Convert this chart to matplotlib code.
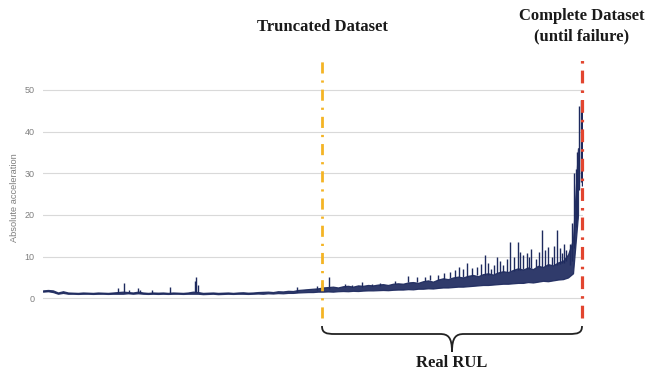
import matplotlib
matplotlib.use("Agg")
import matplotlib.pyplot as plt
import numpy as np
from matplotlib.path import Path
from matplotlib.patches import PathPatch

#####################################################################
# data (time in samples, acceleration values)
bin_width = 5.0
acc_lo = [1.6, 1.7, 1.5, 1.1, 1.3, 1.1, 1.1, 1.05, 1.1, 1.1, 1.05, 1.1,
          1.1, 1.05, 1.1, 1.1, 1.1, 1.2, 1.1, 1.2, 1.1, 1.05, 1.1, 1.05,
          1.1, 1.05, 1.1, 1.1, 1.05, 1.1, 1.1, 1.1, 1.0, 1.05, 1.1, 1.0,
          1.05, 1.1, 1.05, 1.1, 1.1, 1.05, 1.1, 1.15, 1.1, 1.2, 1.15, 1.25,
          1.2, 1.3, 1.3, 1.4, 1.45, 1.5, 1.5, 1.6, 1.6, 1.65, 1.6, 1.7,
          1.75, 1.7, 1.8, 1.75, 1.85, 1.9, 1.9, 1.95, 2.0, 1.95, 2.05, 2.1,
          2.1, 2.2, 2.15, 2.3, 2.3, 2.4, 2.35, 2.5, 2.6, 2.6, 2.7, 2.8,
          2.8, 2.9, 3.0, 3.1, 3.2, 3.2, 3.3, 3.4, 3.5, 3.5, 3.6, 3.7,
          3.7, 3.9, 3.8, 4.0, 4.2, 4.1, 4.3, 4.5, 4.6, 5.0, 6.0, 20.0]
acc_hi = [1.9, 2.0, 1.9, 1.4, 1.7, 1.4, 1.35, 1.3, 1.4, 1.35, 1.3, 1.4,
          1.35, 1.3, 1.4, 1.5, 1.6, 1.5, 1.4, 1.6, 1.4, 1.3, 1.4, 1.35,
          1.4, 1.3, 1.4, 1.35, 1.3, 1.4, 1.6, 1.5, 1.3, 1.35, 1.4, 1.3,
          1.35, 1.4, 1.3, 1.4, 1.45, 1.35, 1.4, 1.5, 1.55, 1.6, 1.5, 1.7,
          1.65, 1.8, 1.75, 2.0, 2.1, 2.2, 2.3, 2.4, 2.6, 2.7, 2.8, 2.6,
          2.9, 3.0, 2.8, 3.1, 3.0, 3.2, 3.1, 3.3, 3.4, 3.2, 3.5, 3.6,
          3.5, 3.8, 3.9, 3.7, 4.1, 4.3, 4.0, 4.5, 4.8, 4.6, 5.0, 5.2,
          5.0, 5.4, 5.6, 5.3, 5.8, 6.0, 5.7, 6.2, 6.5, 6.3, 6.8, 7.2,
          6.9, 7.4, 7.0, 7.8, 7.5, 8.2, 7.9, 8.6, 9.0, 10.5, 14.0, 36.0]

# isolated peaks: time, level at foot, level at top
spike_t = [75, 81, 86, 95, 97, 109, 127, 152, 153, 155, 254, 274, 279, 286,
           302, 309, 319, 329, 337, 352, 365, 374, 382, 387, 395, 401, 407,
           412, 416, 420, 424, 429, 434, 438, 442, 445, 448, 451, 454, 457,
           460, 464, 467, 471, 475, 477, 480, 484, 486, 488, 493, 496, 499,
           502, 505, 509, 511, 514, 517, 519, 521, 523, 527, 529, 531, 533,
           534, 536, 538, 539]
spike_base = [1.3, 1.3, 1.3, 1.3, 1.3, 1.3, 1.3, 1.4, 1.4, 1.4, 1.5, 1.9, 2.0, 2.2,
              2.6, 2.6, 2.8, 3.0, 3.0, 3.4, 3.8, 4.0, 4.2, 4.3, 4.5, 4.6, 4.8,
              4.8, 5.0, 5.0, 5.2, 5.3, 5.5, 5.5, 5.6, 5.7, 5.8, 5.9, 6.0, 6.1,
              6.2, 6.3, 6.5, 6.6, 6.8, 6.8, 7.0, 7.0, 7.1, 7.2, 7.5, 7.5, 7.6,
              7.7, 7.8, 8.0, 8.0, 8.0, 8.2, 8.4, 8.5, 9.0, 8.0, 9.0, 12.0, 17.0,
              19.0, 26.0, 28.0, 27.0]
spike_top = [2.4, 3.6, 2.0, 2.4, 2.1, 2.0, 2.8, 4.2, 5.0, 3.3, 2.8, 3.0, 3.6, 5.0,
             3.4, 3.2, 3.8, 3.5, 3.6, 4.2, 5.3, 5.2, 5.0, 5.5, 5.5, 6.0, 6.4,
             6.8, 7.6, 7.0, 8.5, 7.2, 7.6, 8.2, 10.4, 8.5, 7.0, 8.0, 10.0, 9.0,
             8.0, 9.5, 13.6, 10.0, 13.6, 11.0, 10.4, 10.8, 9.8, 11.8, 9.5, 11.0, 16.3,
             11.5, 12.4, 10.0, 12.5, 16.3, 12.0, 10.8, 13.0, 11.5, 13.0, 18.0, 30.0, 31.0,
             35.0, 46.0, 47.5, 45.0]

truncation_t = 279
failure_t = 539
y_ticks = [0, 10, 20, 30, 40, 50]

#####################################################################
# figure
W, H = 648, 374
fig = plt.figure(figsize=(W / 100, H / 100), dpi=100)
ax = fig.add_axes([43 / W, 0.1912, 540 / W, 0.6244])

navy = '#1e2a5e'
gold = '#f4b425'
red = '#e2452f'

# signal band between the low and high value of each bin, plus peaks
t = np.arange(len(acc_lo)) * bin_width
ax.fill_between(t, acc_lo, acc_hi, facecolor=navy, edgecolor=navy, lw=0.9,
                alpha=0.92, zorder=3)
ax.vlines(spike_t, spike_base, spike_top, color=navy, lw=1.0, zorder=3)

ax.set_xlim(0, 540)
ax.set_ylim(-1, 55)
ax.set_yticks(y_ticks)
ax.set_xticks([])
ax.grid(axis='y', color='#d9d9d9', lw=0.8)
ax.set_axisbelow(True)
for s in ax.spines.values():
    s.set_visible(False)
ax.tick_params(axis='y', length=0, labelsize=6.5, labelcolor='#7f7f7f', pad=6)
for lab in ax.get_yticklabels():
    lab.set_fontfamily('Liberation Sans')
ax.set_ylabel('Absolute acceleration', fontsize=6.7, color='#7f7f7f',
              family='Liberation Sans')
ax.yaxis.set_label_coords(-0.045, 0.447)

# truncation and failure markers
ax.plot([truncation_t, truncation_t], [-4.7, 58.3], color=gold, lw=2.0,
         linestyle=(0, (4, 2.5, 0.8, 2.5)), clip_on=False, zorder=4)
ax.plot([failure_t, failure_t], [-4.7, 58.3], color=red, lw=2.3,
         linestyle=(0, (4, 2.2, 0.8, 2.2)), clip_on=False, zorder=4)

#####################################################################
# curly brace under the RUL span (figure pixels)
def fp(x, y):
    return (x / W, 1 - y / H)

xl, xr, xm = 322, 582, 452
verts = [fp(xl, 326), fp(xl, 333), fp(xl + 4, 334), fp(xl + 13, 334),
         fp(xm - 12, 334),
         fp(xm - 4, 334), fp(xm, 337), fp(xm, 352),
         fp(xm, 337), fp(xm + 4, 334), fp(xm + 12, 334),
         fp(xr - 13, 334),
         fp(xr - 4, 334), fp(xr, 333), fp(xr, 326)]
codes = [Path.MOVETO, Path.CURVE4, Path.CURVE4, Path.CURVE4,
         Path.LINETO,
         Path.CURVE4, Path.CURVE4, Path.CURVE4,
         Path.CURVE4, Path.CURVE4, Path.CURVE4,
         Path.LINETO,
         Path.CURVE4, Path.CURVE4, Path.CURVE4]
brace = PathPatch(Path(verts, codes), transform=fig.transFigure,
                  facecolor='none', edgecolor='#222222', lw=1.3)
fig.patches.append(brace)

#####################################################################
# texts
serif = dict(family='Liberation Serif', fontweight='bold', fontsize=12,
             color='#1a1a1a', ha='center', va='center')
fig.text(*fp(322, 27), 'Truncated Dataset', **serif)
fig.text(*fp(582, 26), 'Complete Dataset\n(until failure)', linespacing=1.35, **serif)
fig.text(*fp(452, 363), 'Real RUL', **serif)

fig.savefig('out.png', dpi=100)
